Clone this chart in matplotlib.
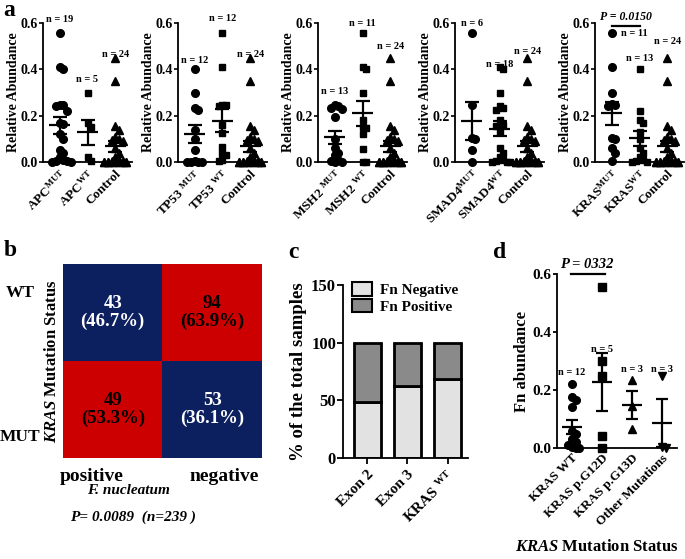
import matplotlib
matplotlib.use("Agg")
import matplotlib.pyplot as plt
import numpy as np
from matplotlib.colors import ListedColormap
from matplotlib.patches import Patch

plt.rcParams['font.family'] = 'Liberation Serif'
plt.rcParams['font.weight'] = 'bold'
plt.rcParams['axes.labelweight'] = 'bold'
plt.rcParams['mathtext.fontset'] = 'custom'
plt.rcParams['mathtext.rm'] = 'Liberation Serif:bold'
plt.rcParams['mathtext.it'] = 'Liberation Serif:italic:bold'
plt.rcParams['mathtext.bf'] = 'Liberation Serif:bold'
plt.rcParams['axes.linewidth'] = 1.3

# ---- panel a: relative abundance by mutation status
genes = ['APC', 'TP53', 'MSH2', 'SMAD4', 'KRAS']
control = [0.45, 0.35, 0.155, 0.14, 0.11, 0.10, 0.095, 0.09, 0.06, 0.04, 0.02, 0.01,
           0.005, 0.003, 0, 0, 0, 0, 0, 0, 0, 0, 0, 0]
apc_mut = [0.555, 0.41, 0.40, 0.245, 0.24, 0.245, 0.22, 0.17, 0.165, 0.12, 0.10,
           0.05, 0.04, 0.02, 0.01, 0.005, 0.005, 0, 0]
apc_wt = [0.30, 0.17, 0.15, 0.02, 0.005]
tp53_mut = [0.40, 0.30, 0.235, 0.225, 0.14, 0.10, 0.05, 0.005, 0, 0, 0, 0]
tp53_wt = [0.555, 0.41, 0.245, 0.245, 0.24, 0.16, 0.125, 0.065, 0.04, 0.03, 0.01, 0.005]
msh2_mut = [0.245, 0.24, 0.235, 0.23, 0.195, 0.10, 0.06, 0.04, 0.03, 0.01, 0.005, 0, 0]
msh2_wt = [0.555, 0.41, 0.40, 0.30, 0.18, 0.15, 0.145, 0.12, 0.055, 0, 0]
smad4_mut = [0.555, 0.245, 0.105, 0.10, 0.05, 0.0]
smad4_wt = [0.41, 0.40, 0.30, 0.235, 0.225, 0.24, 0.18, 0.16, 0.155, 0.13, 0.06,
            0.04, 0.02, 0.01, 0.005, 0, 0, 0]
kras_mut = [0.555, 0.41, 0.30, 0.25, 0.245, 0.24, 0.105, 0.10, 0.06, 0.04, 0.005]
kras_wt = [0.40, 0.22, 0.18, 0.17, 0.13, 0.10, 0.06, 0.04, 0.02, 0.01, 0.005, 0, 0]
mut_groups = [apc_mut, tp53_mut, msh2_mut, smad4_mut, kras_mut]
wt_groups = [apc_wt, tp53_wt, msh2_wt, smad4_wt, kras_wt]
gene_sep = ['', ' ', ' ', '', '']

# where the "n = .." texts sit (data units)
n_label_y = [[0.617, 0.354, 0.462], [0.44, 0.619, 0.463], [0.303, 0.60, 0.50],
             [0.60, 0.42, 0.477], [0.556, 0.447, 0.52]]
n_label_x = [[0, 1, 2], [0, 1, 2], [0, 1, 2], [0, 1, 2], [0.8, 1, 2]]

# ---- panel b: contingency table
kras_status = ['WT', 'MUT']
fn_status = ['positive', 'negative']
counts = np.array([[43, 94], [49, 53]])

# ---- panel c: stacked percentages
exon_labels = ['Exon 2', 'Exon 3', r'KRAS $^{\mathrm{WT}}$']
fn_negative = [48.9, 62.5, 68.6]
fn_positive = [51.1, 37.5, 31.4]

# ---- panel d: Fn abundance by KRAS mutation type
d_labels = ['KRAS WT', 'KRAS p.G12D', 'KRAS p.G13D', 'Other Mutations']
d_wt = [0.22, 0.175, 0.165, 0.14, 0.06, 0.05, 0.03, 0.02, 0.01, 0.005, 0, 0]
d_g12d = [0.555, 0.30, 0.25, 0.04, 0.0]
d_g13d = [0.235, 0.145, 0.065]
d_other = [0.25, 0.005, 0.0]
d_groups = [d_wt, d_g12d, d_g13d, d_other]
d_markers = ['o', 's', '^', 'v']
d_n_y = [0.262, 0.338, 0.272, 0.272]


def swarm(values, step=0.13, thr=0.025, max_k=7):
    values = np.asarray(values, dtype=float)
    xs = np.zeros(len(values))
    placed = []
    for i in np.argsort(-values, kind='stable'):
        v = values[i]
        chosen = None
        for k in range(max_k):
            off = ((k + 1) // 2) * step * (1 if k % 2 else -1)
            if not any(abs(v - pv) < thr and abs(off - px) < step * 0.9 for pv, px in placed):
                chosen = off
                break
        if chosen is None:
            k = len(placed) % max_k
            chosen = ((k + 1) // 2) * step * (1 if k % 2 else -1)
        xs[i] = chosen
        placed.append((v, chosen))
    return xs


def mean_sem(ax, x, vals, half=0.38, cap=4.7):
    vals = np.asarray(vals, dtype=float)
    m = vals.mean()
    s = vals.std(ddof=1) / np.sqrt(len(vals))
    ax.hlines(m, x - half, x + half, color='black', lw=1.6, zorder=4)
    ax.errorbar(x, m, yerr=s, fmt='none', ecolor='black', elinewidth=1.6,
                capsize=cap, capthick=1.6, zorder=4)


def style(ax):
    ax.spines['top'].set_visible(False)
    ax.spines['right'].set_visible(False)


fig = plt.figure(figsize=(6.85, 5.59), dpi=100)

lefts = [43, 178, 318, 455, 595]
markers = ['o', 's', '^']
for g, gene in enumerate(genes):
    ax = fig.add_axes([lefts[g] / 685, 1 - 162 / 559, 89 / 685, 139 / 559])
    style(ax)
    groups = [mut_groups[g], wt_groups[g], control]
    for j, vals in enumerate(groups):
        xs = j + swarm(vals)
        ms = 5 if markers[j] == 's' else 5.5
        ax.plot(xs, vals, markers[j], color='black', ms=ms, clip_on=False, zorder=3)
        mean_sem(ax, j, vals)
        ax.text(n_label_x[g][j], n_label_y[g][j], 'n = %d' % len(vals),
                ha='center', va='center', fontsize=7.5)
    ax.set_xlim(-0.6, 2.6)
    ax.set_ylim(0, 0.6)
    ax.set_yticks([0, 0.2, 0.4, 0.6])
    ax.set_yticklabels(['0.0', '0.2', '0.4', '0.6'], fontsize=10)
    ax.set_xticks([0, 1, 2])
    ax.set_xticklabels([gene + gene_sep[g] + r'$^{\mathrm{MUT}}$',
                        gene + gene_sep[g] + r'$^{\mathrm{WT}}$', 'Control'],
                       rotation=45, ha='right', rotation_mode='anchor', fontsize=9.5)
    ax.tick_params(axis='x', length=0, pad=4)
    ax.tick_params(axis='y', length=3, width=1.2, pad=1)
    ax.set_ylabel('Relative Abundance', fontsize=10, labelpad=0)
    if gene == 'KRAS':
        ax.plot([0, 1], [0.585, 0.585], color='black', lw=1.6, clip_on=False)
        ax.text(0.5, 0.6, 'P = 0.0150', style='italic', ha='center', va='bottom',
                fontsize=8.5)

# ---- panel b
axb = fig.add_axes([63 / 685, 1 - 458 / 559, 199 / 685, 194 / 559])
color_idx = np.array([[0, 1], [1, 0]])
cmap = ListedColormap(['#0c1f5e', '#cc0000'])
axb.pcolormesh([0, 1, 2], [0, 1, 2], color_idx[::-1], cmap=cmap, vmin=0, vmax=1)
col_tot = counts.sum(axis=0)
for r in range(2):
    for c in range(2):
        pct = counts[r, c] / col_tot[c] * 100
        txt_color = 'white' if color_idx[r, c] == 0 else 'black'
        axb.text(c + 0.5, 1.5 - r, '%d\n(%.1f%%)' % (counts[r, c], pct),
                 ha='center', va='center', color=txt_color, fontsize=13.5,
                 linespacing=1.1)
axb.set_xlim(0, 2)
axb.set_ylim(0, 2)
axb.set_xticks([])
axb.set_yticks([])
for s in axb.spines.values():
    s.set_visible(False)
axb.text(-0.216, 0.85, kras_status[0], transform=axb.transAxes, ha='center',
         va='center', fontsize=12.5)
axb.text(-0.216, 0.108, kras_status[1], transform=axb.transAxes, ha='center',
         va='center', fontsize=12.5)
axb.text(-0.055, 0.5, r'$\mathit{KRAS}$ Mutation Status', transform=axb.transAxes,
         rotation=90, ha='center', va='center', fontsize=12)
axb.text(0.146, -0.093, fn_status[0], transform=axb.transAxes, ha='center',
         va='center', fontsize=14)
axb.text(0.81, -0.093, fn_status[1], transform=axb.transAxes, ha='center',
         va='center', fontsize=14)
axb.text(0.327, -0.165, 'F. nucleatum', style='italic', transform=axb.transAxes,
         ha='center', va='center', fontsize=11)
axb.text(0.35, -0.304, 'P= 0.0089  (n=239 )', style='italic',
         transform=axb.transAxes, ha='center', va='center', fontsize=11)

# ---- panel c
axc = fig.add_axes([343 / 685, 1 - 458 / 559, 125 / 685, 173 / 559])
style(axc)
xc = np.arange(len(exon_labels))
axc.bar(xc, fn_negative, width=0.67, color='#e2e2e2', edgecolor='black', lw=2,
        label='Fn Negative')
axc.bar(xc, fn_positive, width=0.67, bottom=fn_negative, color='#8a8a8a',
        edgecolor='black', lw=2, label='Fn Positive')
axc.set_xlim(-0.6, 2.51)
axc.set_ylim(0, 150)
axc.set_yticks([0, 50, 100, 150])
axc.tick_params(axis='y', labelsize=12, length=4, width=1.3, pad=1)
axc.tick_params(axis='x', length=4, width=1.3, pad=3)
axc.set_xticks(xc)
axc.set_xticklabels(exon_labels, rotation=45, ha='right', rotation_mode='anchor',
                    fontsize=11)
axc.set_ylabel('% of the total samples', fontsize=13.5, labelpad=3)
axc.legend(handles=[Patch(facecolor='#e2e2e2', edgecolor='black', lw=1.5),
                    Patch(facecolor='#8a8a8a', edgecolor='black', lw=1.5)],
           labels=['Fn Negative', 'Fn Positive'], loc='upper left',
           bbox_to_anchor=(0.0, 1.07), frameon=False, fontsize=11,
           handlelength=1.3, handleheight=1.0, handletextpad=0.5, labelspacing=0.1,
           borderaxespad=0.2)

# ---- panel d
axd = fig.add_axes([557 / 685, 1 - 448 / 559, 120 / 685, 174 / 559])
style(axd)
for j, vals in enumerate(d_groups):
    xs = j + swarm(vals, step=0.12, thr=0.02)
    axd.plot(xs, vals, d_markers[j], color='black', ms=5.5, clip_on=False, zorder=3)
    mean_sem(axd, j, vals, half=0.32, cap=4.5)
    axd.text(j, d_n_y[j], 'n = %d' % len(vals), ha='center', va='center', fontsize=7.5)
axd.plot([-0.05, 1.1], [0.6, 0.6], color='black', lw=1.6, clip_on=False)
axd.text(0.5, 0.632, 'P = 0332', style='italic', ha='center', va='center',
         fontsize=10.5)
axd.set_xlim(-0.5, 3.5)
axd.set_ylim(0, 0.6)
axd.set_yticks([0, 0.2, 0.4, 0.6])
axd.set_yticklabels(['0.0', '0.2', '0.4', '0.6'], fontsize=11)
axd.tick_params(axis='y', length=3, width=1.3, pad=1)
axd.tick_params(axis='x', length=0, pad=3)
axd.set_xticks(range(len(d_labels)))
axd.set_xticklabels(d_labels, rotation=45, ha='right', rotation_mode='anchor',
                    fontsize=9.5)
axd.set_ylabel('Fn abundance', fontsize=12, labelpad=2)
fig.text(597 / 685, 1 - 547 / 559, r'$\mathit{KRAS}$ Mutation Status', ha='center',
         va='center', fontsize=12)

# panel letters
for letter, px, py in [('a', 9, 10), ('b', 10, 250), ('c', 293, 253), ('d', 500, 253)]:
    fig.text(px / 685, 1 - py / 559, letter, fontsize=17, ha='center', va='center')

fig.savefig('out.png', dpi=100)
